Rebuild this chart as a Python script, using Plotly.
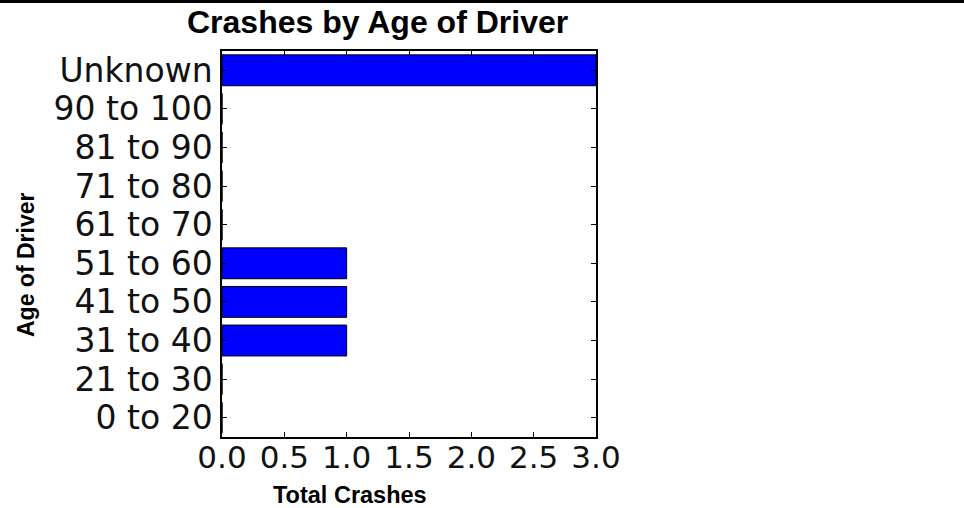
import plotly.graph_objects as go

categories = ["0 to 20", "21 to 30", "31 to 40", "41 to 50", "51 to 60",
              "61 to 70", "71 to 80", "81 to 90", "90 to 100", "Unknown"]
total_crashes = [0, 0, 1, 1, 1, 0, 0, 0, 0, 3]
x_ticks = [0.0, 0.5, 1.0, 1.5, 2.0, 2.5, 3.0]
x_tick_labels = ["0.0", "0.5", "1.0", "1.5", "2.0", "2.5", "3.0"]

W, H = 964, 508
L, R, T, B = 222, 964 - 596, 51, 508 - 437
pw, ph = W - L - R, H - T - B

def px_x(x):
    return (x - L) / pw

def px_y(y):
    return 1 - (y - T) / ph

fig = go.Figure()
fig.add_trace(go.Bar(
    y=categories, x=total_crashes, orientation="h", width=0.8,
    marker=dict(color="#0000FF", line=dict(color="black", width=1)),
))

fig.update_layout(
    width=W, height=H,
    margin=dict(l=L, r=R, t=T, b=B, pad=0),
    paper_bgcolor="white", plot_bgcolor="white",
    showlegend=False,
    font=dict(family="DejaVu Sans", color="black"),
    bargap=0.2,
)
fig.update_xaxes(
    range=[0, 3], tickmode="array", tickvals=x_ticks, ticktext=x_tick_labels,
    showgrid=False, zeroline=False,
    showline=True, linecolor="black", linewidth=1.5, mirror="allticks",
    ticks="inside", ticklen=5, tickcolor="black", tickwidth=1,
    tickfont=dict(family="DejaVu Sans", size=31, color="#111"),
    ticklabelstandoff=-8,
)
fig.update_yaxes(
    type="category", categoryorder="array", categoryarray=categories,
    tickmode="array", tickvals=categories, ticktext=categories,
    range=[-0.5, 9.5],
    showgrid=False, zeroline=False,
    showline=True, linecolor="black", linewidth=1.5, mirror="allticks",
    ticks="inside", ticklen=5, tickcolor="black", tickwidth=1,
    tickfont=dict(family="DejaVu Sans", size=33, color="#111"),
    ticklabelstandoff=1,
)

bold = "Liberation Sans"
fig.add_annotation(text="<b>Crashes by Age of Driver</b>", xref="paper", yref="paper",
                   x=px_x(377.5), y=px_y(22), xanchor="center", yanchor="middle",
                   showarrow=False, font=dict(family=bold, size=32, color="black"))
fig.add_annotation(text="<b>Total Crashes</b>", xref="paper", yref="paper",
                   x=px_x(350), y=px_y(495), xanchor="center", yanchor="middle",
                   showarrow=False, font=dict(family=bold, size=23.5, color="black"))
fig.add_annotation(text="<b>Age of Driver</b>", xref="paper", yref="paper",
                   x=px_x(26), y=px_y(265), xanchor="center", yanchor="middle",
                   textangle=-90,
                   showarrow=False, font=dict(family=bold, size=23, color="black"))

fig.add_shape(type="rect", xref="paper", yref="paper",
              x0=px_x(-5), x1=px_x(W + 5), y0=px_y(3), y1=px_y(-5),
              fillcolor="black", line=dict(width=0), layer="above")

fig.write_html(
    "out.html",
    config={"displayModeBar": False},
    post_script="document.body.style.margin='0';document.body.style.overflow='hidden';",
)
